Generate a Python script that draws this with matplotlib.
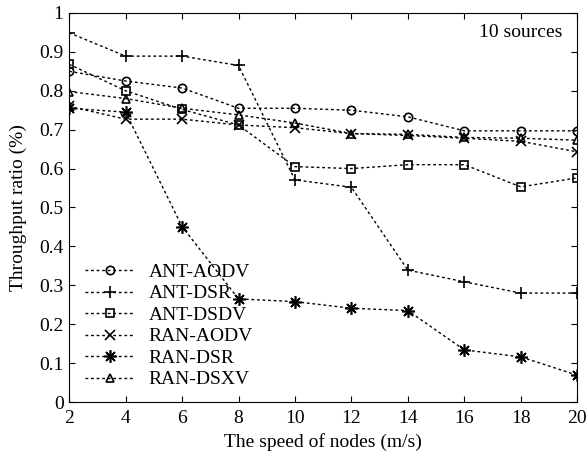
import matplotlib
matplotlib.use('Agg')
from matplotlib import pyplot as plt

# =============================================================================
# Data
# =============================================================================
speed = [2, 4, 6, 8, 10, 12, 14, 16, 18, 20]
ant_aodv = [0.850, 0.825, 0.807, 0.755, 0.755, 0.750, 0.733, 0.697, 0.697, 0.697]
ant_dsr = [0.949, 0.889, 0.889, 0.865, 0.571, 0.552, 0.339, 0.309, 0.280, 0.280]
ant_dsdv = [0.868, 0.800, 0.752, 0.712, 0.605, 0.600, 0.610, 0.610, 0.553, 0.576]
ran_aodv = [0.760, 0.727, 0.727, 0.712, 0.705, 0.690, 0.685, 0.678, 0.670, 0.643]
ran_dsr = [0.755, 0.745, 0.451, 0.265, 0.258, 0.241, 0.235, 0.134, 0.116, 0.069]
ran_dsxv = [0.798, 0.780, 0.755, 0.738, 0.717, 0.690, 0.688, 0.680, 0.678, 0.673]

labels = ['ANT-AODV', 'ANT-DSR', 'ANT-DSDV', 'RAN-AODV', 'RAN-DSR', 'RAN-DSXV']
series = [ant_aodv, ant_dsr, ant_dsdv, ran_aodv, ran_dsr, ran_dsxv]
markers = ['o', '+', 's', 'x', (8, 2, 0), '^']
msizes = [6, 9, 6, 7, 9, 6]

# =============================================================================
# Plot parameters
# =============================================================================
matplotlib.rcParams['font.family'] = 'Liberation Serif'
matplotlib.rcParams['font.size'] = 14
matplotlib.rcParams['xtick.direction'] = 'in'
matplotlib.rcParams['ytick.direction'] = 'in'
matplotlib.rcParams['xtick.top'] = True
matplotlib.rcParams['ytick.right'] = True

fig = plt.figure(figsize=(5.86, 4.54), dpi=100)
ax = fig.add_axes([0.118, 0.1145, 0.867, 0.857])

for y, lab, mk, ms in zip(series, labels, markers, msizes):
	ax.plot(speed, y, color='k', linestyle=(0, (2, 2)), linewidth=1,
		marker=mk, markersize=ms, markerfacecolor='none',
		markeredgecolor='k', markeredgewidth=1.2, label=lab)

ax.set_xlim(2, 20)
ax.set_ylim(0, 1)
ax.set_xticks(speed)
ax.set_yticks([i / 10 for i in range(11)])
ax.set_yticklabels(['0', '0.1', '0.2', '0.3', '0.4', '0.5', '0.6', '0.7',
	'0.8', '0.9', '1'])
ax.tick_params(length=4, width=0.8, labelsize=14)
ax.tick_params(axis='x', pad=6)
ax.tick_params(axis='y', pad=4)
ax.set_xlabel('The speed of nodes (m/s)', fontsize=14, labelpad=4)
ax.set_ylabel('Throughput ratio (%)', fontsize=14, labelpad=9)
ax.text(0.970, 0.949, '10 sources', transform=ax.transAxes, ha='right',
	va='center', fontsize=14)

leg = ax.legend(loc='lower left', bbox_to_anchor=(0.0, -0.005), frameon=False,
	handlelength=2.6, handletextpad=0.7, labelspacing=0.2, borderpad=0.3,
	fontsize=14)

plt.savefig('out.png', dpi=100)
